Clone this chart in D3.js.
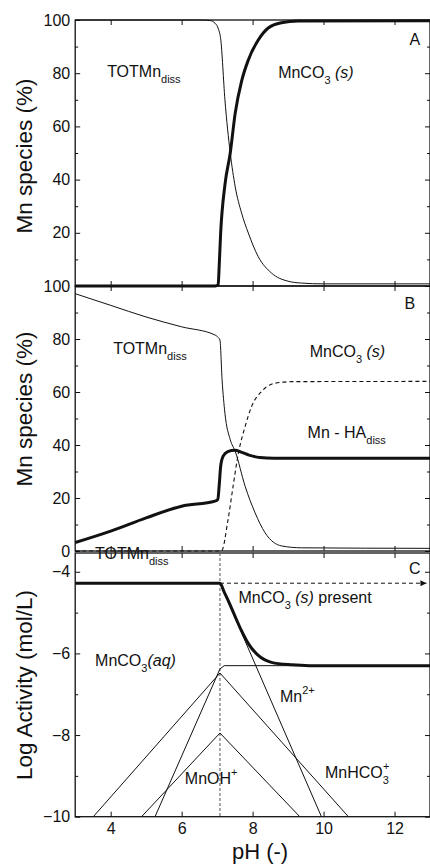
<!DOCTYPE html>
<html>
<head>
<meta charset="utf-8">
<script src="https://cdn.jsdelivr.net/npm/d3@7"></script>
<style>
    body { margin: 0; background: #fff; }
    svg { display: block; font-family: "Liberation Sans", Arial, sans-serif; }
</style>
</head>
<body>
<div id="chart"></div>
<script>
// tick values
var phTicks = [4, 6, 8, 10, 12];
var pctTicks = [0, 20, 40, 60, 80, 100];
var pctTicksTop = [20, 40, 60, 80, 100];   // panel A: its 0 sits under panel B's 100
var pctMinor = [10, 30, 50, 70, 90];
var logTicks = [-10, -8, -6, -4];
var logMinor = [-9, -7, -5];

// panel A: TOTMn diss (thin) and MnCO3(s) (thick), %
var phTotA = [3, 6.5, 6.8, 6.94, 7.04, 7.1, 7.22, 7.37, 7.51, 7.69, 7.88, 8.16, 8.53, 9.0, 9.38, 10, 13];
var totA = [100, 100, 99.8, 98.8, 96.5, 93, 70, 50, 37.3, 27.4, 19.9, 11, 4.9, 1.8, 1.1, 0.8, 0.8];
var phSolA = [3, 6.95, 7.03, 7.06, 7.1, 7.22, 7.37, 7.51, 7.69, 7.88, 8.16, 8.44, 8.81, 9.28, 13];
var solA = [0, 0, 0.5, 8, 20, 38, 50, 65, 77, 85, 92.5, 97, 99, 99.6, 99.7];

// panel B: TOTMn diss (thin), Mn-HA diss (thick), MnCO3(s) (dashed), %
var phTotB = [3, 4, 5, 6, 6.94, 7.03, 7.08, 7.14, 7.22, 7.37, 7.51, 7.79, 8.07, 8.35, 8.82, 9.38, 13];
var totB = [97.1, 92.7, 88.3, 84.6, 81.5, 80.6, 79.6, 64.6, 52, 42, 37.6, 24.4, 14.4, 6.9, 1.9, 1.2, 1.0];
var phHaB = [3, 4, 5, 6, 6.94, 7.02, 7.06, 7.1, 7.17, 7.3, 7.5, 7.7, 7.9, 8.2, 8.6, 13];
var haB = [3.2, 7.5, 12.5, 16.9, 18.8, 19.5, 25, 32, 35.8, 37.5, 38, 37.2, 36.2, 35.3, 35, 35];
var phSolB = [3, 7.12, 7.31, 7.45, 7.6, 7.79, 7.97, 8.25, 8.63, 9.1, 13];
var solB = [0, 0, 12, 24.4, 37, 47, 54.5, 60.2, 63.3, 63.9, 64];

// panel C: log activities (mol/L)
var phTotC = [3, 7.08, 7.2, 7.31, 7.5, 7.69, 7.88, 8.16, 8.53, 9.1, 9.6, 13];
var totC = [-4.28, -4.28, -4.5, -4.7, -5.08, -5.45, -5.76, -6.05, -6.22, -6.28, -6.3, -6.3];
var phMn2 = [3, 7.08, 9.94];
var mn2 = [-4.28, -4.28, -10];
var phMnco3aq = [5.25, 7.08, 7.2, 13];
var mnco3aq = [-10, -6.38, -6.3, -6.3];
var phMnhco3 = [3.51, 7.08, 10.7];
var mnhco3 = [-10, -6.48, -10];
var phMnoh = [4.87, 7.08, 9.33];
var mnoh = [-10, -7.95, -10];
var phSat = 7.08;      // MnCO3(s) starts to form
var phArrowEnd = 12.9;

var w = 430, h = 866;
var left = 75.2, right = 430;
var ink = "#111";

var svg = d3.select("#chart").append("svg")
    .attr("width", w)
    .attr("height", h);

svg.append("defs").append("marker")
    .attr("id", "arrow")
    .attr("viewBox", "0 0 10 10")
    .attr("refX", 10)
    .attr("refY", 5)
    .attr("markerUnits", "userSpaceOnUse")
    .attr("markerWidth", 8)
    .attr("markerHeight", 6)
    .attr("orient", "auto")
    .append("path")
    .attr("d", "M0,0L10,5L0,10z")
    .attr("fill", ink);

var x = d3.scaleLinear().domain([3, 13]).range([left, right]);

var yA = d3.scaleLinear().domain([0, 100]).range([286, 20]);
var yB = d3.scaleLinear().domain([0, 100]).range([551, 286]);
var yC = d3.scaleLinear().domain([-10, -3.54]).range([816.7, 553]);

var panels = [
    { y: yA, major: pctTicks, labels: pctTicksTop, minor: pctMinor, titleY: 156, title: "Mn species (%)", xLabels: false },
    { y: yB, major: pctTicks, labels: pctTicks, minor: pctMinor, titleY: 409, title: "Mn species (%)", xLabels: false },
    { y: yC, major: logTicks, labels: logTicks, minor: logMinor, titleY: 685, title: "Log Activity (mol/L)", xLabels: true }
];

function noDomain(g) { g.select(".domain").remove(); }

//draw frames and axes
panels.forEach(function (p) {
    var top = p.y.range()[1], bottom = p.y.range()[0];
    var g = svg.append("g");

    g.append("rect")
        .attr("x", left)
        .attr("y", top)
        .attr("width", right - left)
        .attr("height", bottom - top)
        .attr("fill", "none")
        .attr("stroke", ink)
        .attr("stroke-width", 1.3);

    g.append("g").attr("transform", "translate(" + left + ",0)")
        .call(d3.axisLeft(p.y).tickValues(p.major).tickSize(-5).tickPadding(5)
            .tickFormat(function (d) { return p.labels.indexOf(d) >= 0 ? d3.format("d")(d) : ""; }))
        .call(noDomain);
    g.append("g").attr("transform", "translate(" + left + ",0)")
        .call(d3.axisLeft(p.y).tickValues(p.minor).tickSize(-3).tickFormat(""))
        .call(noDomain);
    g.append("g").attr("transform", "translate(" + right + ",0)")
        .call(d3.axisRight(p.y).tickValues(p.major).tickSize(-5).tickFormat(""))
        .call(noDomain);
    g.append("g").attr("transform", "translate(" + right + ",0)")
        .call(d3.axisRight(p.y).tickValues(p.minor).tickSize(-3).tickFormat(""))
        .call(noDomain);
    g.append("g").attr("transform", "translate(0," + top + ")")
        .call(d3.axisTop(x).tickValues(phTicks).tickSize(-5).tickFormat(""))
        .call(noDomain);
    g.append("g").attr("transform", "translate(0," + bottom + ")")
        .call(d3.axisBottom(x).tickValues(phTicks).tickSize(-5).tickPadding(6)
            .tickFormat(p.xLabels ? d3.format("d") : ""))
        .call(noDomain);

    g.selectAll(".tick line").attr("stroke", ink).attr("stroke-width", 1);
    g.selectAll(".tick text")
        .attr("fill", ink)
        .style("font-size", "16px")
        .style("font-family", "\"Liberation Sans\", Arial, sans-serif");

    //y title
    g.append("text")
        .attr("transform", "translate(32," + p.titleY + ") rotate(-90)")
        .attr("text-anchor", "middle")
        .attr("fill", ink)
        .style("font-size", "22.5px")
        .text(p.title);
});

//x title
svg.append("text")
    .attr("x", 260)
    .attr("y", 859)
    .attr("text-anchor", "middle")
    .attr("fill", ink)
    .style("font-size", "22px")
    .text("pH (-)");

//line helper
function drawLine(yScale, xs, ys, width, dash, curve) {
    var pts = xs.map(function (d, i) { return [d, ys[i]]; });
    var line = d3.line()
        .x(function (d) { return x(d[0]); })
        .y(function (d) { return yScale(d[1]); })
        .curve(curve || d3.curveMonotoneX);
    return svg.append("path")
        .datum(pts)
        .attr("d", line)
        .attr("fill", "none")
        .attr("stroke", ink)
        .attr("stroke-width", width)
        .attr("stroke-dasharray", dash || null)
        .attr("stroke-linejoin", "round");
}

//panel A
drawLine(yA, phTotA, totA, 1);
drawLine(yA, phSolA, solA, 3);

//panel B
drawLine(yB, phTotB, totB, 1);
drawLine(yB, phSolB, solB, 1.1, "4,3");
drawLine(yB, phHaB, haB, 3);

//panel C
svg.append("line")
    .attr("x1", x(phSat)).attr("x2", x(phSat))
    .attr("y1", yC.range()[1]).attr("y2", yC.range()[0])
    .attr("stroke", "#555")
    .attr("stroke-width", 1)
    .attr("stroke-dasharray", "3,2");
drawLine(yC, phMn2, mn2, 1, null, d3.curveLinear);
drawLine(yC, phMnco3aq, mnco3aq, 1, null, d3.curveLinear);
drawLine(yC, phMnhco3, mnhco3, 1, null, d3.curveLinear);
drawLine(yC, phMnoh, mnoh, 1, null, d3.curveLinear);
drawLine(yC, phTotC, totC, 3);
svg.append("line")
    .attr("x1", x(phSat)).attr("x2", x(phArrowEnd))
    .attr("y1", yC(totC[0])).attr("y2", yC(totC[0]))
    .attr("stroke", ink)
    .attr("stroke-width", 1)
    .attr("stroke-dasharray", "4,3")
    .attr("marker-end", "url(#arrow)");

//labels with sub/superscripts
function label(px, py, parts, anchor) {
    var t = svg.append("text")
        .attr("x", px)
        .attr("y", py)
        .attr("fill", ink)
        .attr("text-anchor", anchor || "start")
        .style("font-size", "16px");
    var shift = 0;
    parts.forEach(function (p) {
        var target = p.sub ? 6 : (p.sup ? -8 : 0);
        var s = t.append("tspan").text(p.t).attr("dy", target - shift);
        shift = target;
        if (p.sub || p.sup) s.style("font-size", "11px");
        if (p.it) s.style("font-style", "italic");
        if (p.dx) s.attr("dx", p.dx);
    });
}

label(x(3.9), yA(78.6), [{ t: "TOTMn" }, { t: "diss", sub: true }]);
label(x(8.72), yA(78.2), [{ t: "MnCO" }, { t: "3", sub: true }, { t: " " }, { t: "(s)", it: true }]);
label(x(12.57), yA(90.6), [{ t: "A" }], "middle");

label(x(4.07), yB(74.3), [{ t: "TOTMn" }, { t: "diss", sub: true }]);
label(x(9.61), yB(73.2), [{ t: "MnCO" }, { t: "3", sub: true }, { t: " " }, { t: "(s)", it: true }]);
label(x(9.55), yB(42.7), [{ t: "Mn - HA" }, { t: "diss", sub: true }]);
label(x(12.43), yB(91.4), [{ t: "B" }], "middle");

label(x(3.56), yC(-3.68), [{ t: "TOTMn" }, { t: "diss", sub: true }]);
label(x(12.57), yC(-4.06), [{ t: "C" }], "middle");
label(x(7.6), yC(-4.77), [{ t: "MnCO" }, { t: "3", sub: true }, { t: " " }, { t: "(s)", it: true }, { t: " present" }]);
label(x(3.56), yC(-6.31), [{ t: "MnCO" }, { t: "3", sub: true }, { t: "(aq)", it: true }]);
label(x(8.77), yC(-7.18), [{ t: "Mn" }, { t: "2+", sup: true }]);
label(x(6.09), yC(-9.21), [{ t: "MnOH" }, { t: "+", sup: true }]);
label(x(10.04), yC(-9.04), [{ t: "MnHCO" }, { t: "3", sub: true }, { t: "+", sup: true, dx: -6 }]);
</script>
</body>
</html>
